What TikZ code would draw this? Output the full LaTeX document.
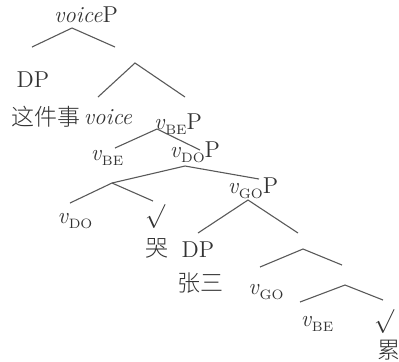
\documentclass[tikz,border=0pt]{standalone}
\usepackage{fontspec}
\newfontfamily\cjk{Noto Sans CJK SC}[UprightFont=* Light]
\usetikzlibrary{positioning}
\tikzstyle{lbl} = [inner sep=0pt, text=black!80, font=\fontsize{11.5}{13}\selectfont]
\tikzstyle{branch} = [draw=black!65, line width=0.55pt]
\newcommand{\vsub}[1]{\textit{v}\raisebox{-0.55ex}{\fontsize{6.8}{7}\selectfont #1}}

\begin{document}
\begin{tikzpicture}[x=0.5pt, y=-0.5pt]
    \useasboundingbox (0,0) rectangle (399,361);
    % labels
    \node[lbl] (voiceP) at (86,15) {\textit{voice}P};
    \node[lbl] (dpA) at (33,80) {DP};
    \node[lbl] (zhe) at (46,117) {\cjk 这件事};
    \node[lbl] (voice) at (108,117) {\textit{voice}};
    \node[lbl] (vbeP) at (178,124) {\vsub{BE}P};
    \node[lbl] (vbeA) at (107,158) {\vsub{BE}};
    \node[lbl] (vdoP) at (195,152) {\vsub{DO}P};
    \node[lbl] (vdo) at (75,221) {\vsub{DO}};
    \node[lbl] (rootA) at (155,217) {$\surd$};
    \node[lbl] (ku) at (157,248) {\cjk 哭};
    \node[lbl] (dpB) at (198,250) {DP};
    \node[lbl] (vgoP) at (253,188) {\vsub{GO}P};
    \node[lbl] (zs) at (200,283) {\cjk 张三};
    \node[lbl] (vgo) at (266,292) {\vsub{GO}};
    \node[lbl] (vbeB) at (317,324) {\vsub{BE}};
    \node[lbl] (rootB) at (384,322) {$\surd$};
    \node[lbl] (lei) at (389,350) {\cjk 累};
    % branch points
    \coordinate (t1) at (72,28);   \coordinate (l1) at (32,47);   \coordinate (r1) at (115,47);
    \coordinate (t2) at (135,63);  \coordinate (l2) at (98,97);   \coordinate (r2) at (185,97);
    \coordinate (t3) at (157,129); \coordinate (l3) at (115,148); \coordinate (r3) at (200,150);
    \coordinate (t4) at (185,166); \coordinate (l4) at (112,183); \coordinate (r4) at (259,179);
    \coordinate (l5) at (70,203);  \coordinate (r5) at (153,201);
    \coordinate (t6) at (248,200); \coordinate (l6) at (198,233); \coordinate (r6) at (298,233);
    \coordinate (t7) at (303,249); \coordinate (l7) at (260,267); \coordinate (r7) at (342,265);
    \coordinate (t8) at (345,285); \coordinate (l8) at (300,302); \coordinate (r8) at (383,300);
    \draw[branch] (l1) -- (t1) -- (r1);
    \draw[branch] (l2) -- (t2) -- (r2);
    \draw[branch] (l3) -- (t3) -- (r3);
    \draw[branch] (l4) -- (t4) -- (r4);
    \draw[branch] (l5) -- (l4) -- (r5);
    \draw[branch] (l6) -- (t6) -- (r6);
    \draw[branch] (l7) -- (t7) -- (r7);
    \draw[branch] (l8) -- (t8) -- (r8);
  \end{tikzpicture}
\end{document}
